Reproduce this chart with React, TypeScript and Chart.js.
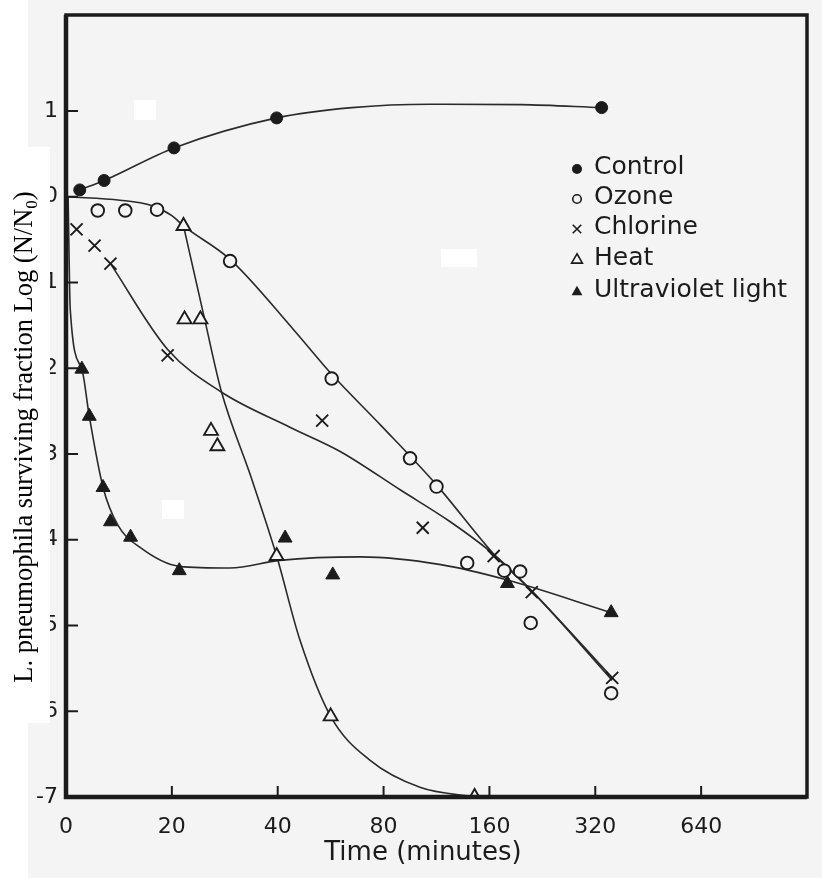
import React, { useEffect, useRef } from 'react';
import { Chart, registerables } from 'chart.js';

Chart.register(...registerables);

// ---- axis labels ----
const X_TICK_LABELS = ['0', '20', '40', '80', '160', '320', '640'];
const Y_TICKS = [1, 0, -1, -2, -3, -4, -5, -6, -7];
const Y_TICK_LABELS = ['1', '0', '-1', '-2', '-3', '-4', '-5', '-6', '-7'];
const SERIES_NAMES = ['Control', 'Ozone', 'Chlorine', 'Heat', 'Ultraviolet light'];

// x values are positions on the (doubling) time axis: 0 -> "0", 1 -> "20", 2 -> "40", 3 -> "80" ...
// ---- measured points ----
const controlX = [0.13, 0.36, 1.02, 1.99, 5.06];
const controlY = [0.08, 0.19, 0.57, 0.92, 1.04];

const ozoneX = [0.30, 0.56, 0.86, 1.55, 2.51, 3.25, 3.50, 3.79, 4.14, 4.29, 4.39, 5.15];
const ozoneY = [-0.16, -0.16, -0.15, -0.75, -2.12, -3.05, -3.38, -4.27, -4.36, -4.37, -4.97, -5.79];

const chlorineX = [0.10, 0.27, 0.42, 0.96, 2.42, 3.37, 4.04, 4.40, 5.16];
const chlorineY = [-0.38, -0.57, -0.78, -1.85, -2.61, -3.86, -4.19, -4.61, -5.61];

const heatX = [1.11, 1.12, 1.27, 1.37, 1.43, 1.99, 2.50, 3.86];
const heatY = [-0.34, -1.43, -1.43, -2.73, -2.91, -4.19, -6.06, -7.0];

const uvX = [0.15, 0.22, 0.35, 0.42, 0.61, 1.07, 2.07, 2.52, 4.17, 5.15];
const uvY = [-2.01, -2.56, -3.39, -3.79, -3.97, -4.36, -3.98, -4.41, -4.51, -4.85];

// ---- fitted curves ----
const controlCurveX = [0.13, 0.36, 1.02, 1.99, 2.7, 3.44, 4.3, 5.06];
const controlCurveY = [0.08, 0.19, 0.57, 0.92, 1.04, 1.08, 1.075, 1.04];

const ozoneCurveX = [0.02, 0.51, 0.80, 1.0, 1.11, 1.55, 2.15, 2.51, 2.97, 3.50, 4.05, 4.41, 5.16];
const ozoneCurveY = [0.0, -0.04, -0.1, -0.22, -0.34, -0.73, -1.55, -2.07, -2.66, -3.36, -4.18, -4.61, -5.64];

const chlorineCurveX = [0.42, 0.96, 1.47, 2.12, 2.59, 3.16, 3.63, 4.05, 4.41, 5.16];
const chlorineCurveY = [-0.78, -1.78, -2.28, -2.69, -2.97, -3.42, -3.79, -4.18, -4.61, -5.61];

const heatCurveX = [1.11, 1.31, 1.47, 1.74, 1.99, 2.21, 2.50, 2.87, 3.35, 3.86];
const heatCurveY = [-0.34, -1.43, -2.28, -3.24, -4.19, -5.17, -6.06, -6.57, -6.89, -7.0];

const uvCurveX = [0.02, 0.04, 0.15, 0.22, 0.35, 0.49, 0.70, 1.07, 1.55, 2.02, 2.78, 3.54, 4.17, 5.15];
const uvCurveY = [0.0, -1.31, -2.01, -2.56, -3.39, -3.83, -4.09, -4.31, -4.33, -4.24, -4.20, -4.29, -4.47, -4.85];

const zip = (xs: number[], ys: number[]) => xs.map((x, i) => ({ x, y: ys[i] }));

const INK = '#1b1b1b';
const PAPER = '#f4f4f4';
const SANS = '"DejaVu Sans", sans-serif';
const SERIF = '"Liberation Serif", "Times New Roman", serif';

type Marker = 'dot' | 'ring' | 'cross' | 'tri' | 'filltri';
const LEGEND_MARKERS: Marker[] = ['dot', 'ring', 'cross', 'tri', 'filltri'];

function drawMarker(ctx: CanvasRenderingContext2D, m: Marker, x: number, y: number, s: number) {
  ctx.save();
  ctx.strokeStyle = INK;
  ctx.fillStyle = INK;
  ctx.lineWidth = 1.6;
  ctx.beginPath();
  if (m === 'dot') {
    ctx.arc(x, y, s, 0, Math.PI * 2);
    ctx.fill();
  } else if (m === 'ring') {
    ctx.arc(x, y, s * 0.85, 0, Math.PI * 2);
    ctx.stroke();
  } else if (m === 'cross') {
    const d = s * 0.85;
    ctx.moveTo(x - d, y - d); ctx.lineTo(x + d, y + d);
    ctx.moveTo(x + d, y - d); ctx.lineTo(x - d, y + d);
    ctx.stroke();
  } else {
    const r = s * 1.25;
    ctx.moveTo(x, y - r);
    ctx.lineTo(x + r * 0.866, y + r * 0.5);
    ctx.lineTo(x - r * 0.866, y + r * 0.5);
    ctx.closePath();
    if (m === 'filltri') ctx.fill(); else ctx.stroke();
  }
  ctx.restore();
}

const decorPlugin = {
  id: 'decor',
  beforeDraw(chart: any) {
    const { ctx, width, height } = chart;
    ctx.save();
    ctx.fillStyle = PAPER;
    ctx.fillRect(0, 0, width, height);
    ctx.fillStyle = '#ffffff';
    ctx.fillRect(0, 0, 28, height);
    ctx.restore();
  },
  beforeDatasetsDraw(chart: any) {
    const { ctx } = chart;
    ctx.save();
    ctx.fillStyle = '#ffffff';
    // scan blemishes
    ctx.fillRect(134, 100, 22, 20);
    ctx.fillRect(441, 249, 36, 18);
    ctx.fillRect(162, 500, 22, 19);
    ctx.restore();
  },
  afterDraw(chart: any) {
    const { ctx, chartArea } = chart;
    const { left, right, top, bottom } = chartArea;
    const xs = chart.scales.x;
    const ys = chart.scales.y;
    ctx.save();
    // frame
    ctx.strokeStyle = INK;
    ctx.lineWidth = 3.5;
    ctx.strokeRect(left, top, right - left, bottom - top);
    ctx.lineWidth = 4.5;
    ctx.beginPath();
    ctx.moveTo(left, top);
    ctx.lineTo(left, bottom);
    ctx.lineTo(right, bottom);
    ctx.stroke();
    // inward ticks
    ctx.lineWidth = 2;
    ctx.beginPath();
    Y_TICKS.forEach((v) => {
      const py = ys.getPixelForValue(v);
      ctx.moveTo(left, py);
      ctx.lineTo(left + 12, py);
    });
    X_TICK_LABELS.forEach((_, i) => {
      if (i === 0) return;
      const px = xs.getPixelForValue(i);
      ctx.moveTo(px, bottom);
      ctx.lineTo(px, bottom - 11);
    });
    ctx.stroke();

    // y title on white band
    ctx.fillStyle = '#ffffff';
    ctx.fillRect(0, 147, 50, 576);
    ctx.fillStyle = '#000';
    ctx.translate(32, 437);
    ctx.rotate(-Math.PI / 2);
    ctx.textBaseline = 'alphabetic';
    ctx.textAlign = 'left';
    const main = 'L. pneumophila surviving fraction Log (N/N';
    ctx.font = '26.5px ' + SERIF;
    const wMain = ctx.measureText(main).width;
    const wClose = ctx.measureText(')').width;
    ctx.font = '17px ' + SERIF;
    const wSub = ctx.measureText('0').width;
    const total = wMain + wSub + wClose;
    let cx = -total / 2;
    ctx.font = '26.5px ' + SERIF;
    ctx.fillText(main, cx, 0);
    cx += wMain;
    ctx.font = '17px ' + SERIF;
    ctx.fillText('0', cx, 5);
    cx += wSub;
    ctx.font = '26.5px ' + SERIF;
    ctx.fillText(')', cx, 0);
    ctx.restore();

    // x title
    ctx.save();
    ctx.fillStyle = INK;
    ctx.font = '26px ' + SANS;
    ctx.textAlign = 'center';
    ctx.textBaseline = 'middle';
    ctx.fillText('Time (minutes)', 423, 853);
    ctx.restore();

    // legend
    ctx.save();
    const rows = [167, 197, 227, 258, 290];
    ctx.font = '25px ' + SANS;
    ctx.textBaseline = 'middle';
    ctx.textAlign = 'left';
    ctx.fillStyle = INK;
    SERIES_NAMES.forEach((name, i) => {
      const m = LEGEND_MARKERS[i];
      drawMarker(ctx, m, 577, rows[i] + 2, 5);
      ctx.fillText(name, 594, rows[i]);
    });
    ctx.restore();
  },
};

const lineDs = (label: string, xs: number[], ys: number[]) => ({
  type: 'line' as const,
  label,
  data: zip(xs, ys),
  borderColor: '#2a2a2a',
  borderWidth: 1.6,
  pointRadius: 0,
  fill: false,
  cubicInterpolationMode: 'monotone' as const,
  order: 2,
});

const pointDs = (label: string, xs: number[], ys: number[], style: string, radius: number, filled: boolean) => ({
  type: 'scatter' as const,
  label,
  data: zip(xs, ys),
  showLine: false,
  pointStyle: style,
  pointRadius: radius,
  pointBorderWidth: filled ? 1 : 1.9,
  pointBorderColor: INK,
  pointBackgroundColor: filled ? INK : PAPER,
  order: 1,
});

export default function App() {
  const ref = useRef<HTMLCanvasElement | null>(null);
  useEffect(() => {
    if (!ref.current) return;
    const chart = new Chart(ref.current, {
      type: 'scatter',
      data: {
        datasets: [
          lineDs('Control curve', controlCurveX, controlCurveY),
          lineDs('Ozone curve', ozoneCurveX, ozoneCurveY),
          lineDs('Chlorine curve', chlorineCurveX, chlorineCurveY),
          lineDs('Heat curve', heatCurveX, heatCurveY),
          lineDs('Ultraviolet curve', uvCurveX, uvCurveY),
          pointDs(SERIES_NAMES[0], controlX, controlY, 'circle', 6, true),
          pointDs(SERIES_NAMES[1], ozoneX, ozoneY, 'circle', 6.3, false),
          pointDs(SERIES_NAMES[2], chlorineX, chlorineY, 'crossRot', 8.5, false),
          pointDs(SERIES_NAMES[3], heatX, heatY, 'triangle', 8, false),
          pointDs(SERIES_NAMES[4], uvX, uvY, 'triangle', 8, true),
        ] as any,
      },
      options: {
        animation: false,
        responsive: false,
        devicePixelRatio: 1,
        layout: { padding: { top: 15, right: 15, left: 0, bottom: 0 } },
        plugins: { legend: { display: false }, tooltip: { enabled: false } },
        scales: {
          x: {
            type: 'linear',
            min: 0,
            max: 7,
            grid: { display: false },
            border: { display: false },
            afterBuildTicks: (s: any) => {
              s.ticks = X_TICK_LABELS.map((_, i) => ({ value: i }));
            },
            afterFit: (s: any) => {
              s.height = 81;
            },
            ticks: {
              autoSkip: false,
              maxRotation: 0,
              padding: 9,
              color: INK,
              font: { family: SANS, size: 22 },
              callback: (v: any) => X_TICK_LABELS[Math.round(Number(v))] ?? '',
            },
          },
          y: {
            type: 'linear',
            min: -7,
            max: 2.12,
            grid: { display: false },
            border: { display: false },
            afterBuildTicks: (s: any) => {
              s.ticks = Y_TICKS.map((v) => ({ value: v }));
            },
            afterFit: (s: any) => {
              s.width = 66;
            },
            ticks: {
              autoSkip: false,
              padding: 0,
              color: INK,
              font: { family: SANS, size: 22 },
              callback: (v: any) => {
                const i = Y_TICKS.indexOf(Number(v));
                return i >= 0 ? Y_TICK_LABELS[i] : '';
              },
            },
          },
        },
      },
      plugins: [decorPlugin],
    } as any);
    return () => chart.destroy();
  }, []);
  return (
    <div style={{ position: 'absolute', left: 0, top: 0, width: 822, height: 878 }}>
      <canvas ref={ref} width={822} height={878} style={{ width: 822, height: 878, display: 'block' }} />
    </div>
  );
}
